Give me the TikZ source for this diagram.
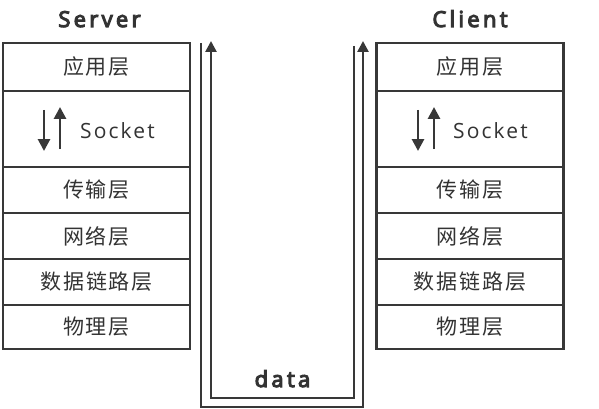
\documentclass[tikz,border=0pt]{standalone}
\usepackage{fontspec}
\usetikzlibrary{arrows.meta}
\newfontfamily\cjk[LetterSpace=9]{Noto Sans CJK SC}
\newfontfamily\lat[LetterSpace=10]{Open Sans}
\newfontfamily\latb[LetterSpace=15,FakeBold=5]{Open Sans}
\definecolor{ln}{HTML}{383838}
\definecolor{tx}{HTML}{333333}
\tikzset{
  layer/.style={draw=ln, line width=2.6pt, minimum width=#1, inner sep=0pt, text=tx, font=\cjk\fontsize{21}{21}\selectfont},
  title/.style={text=tx, font=\latb\fontsize{22}{22}\selectfont, inner sep=0pt, anchor=base},
  flow/.style={draw=ln, line width=2.6pt, -{Triangle[width=11pt,length=11pt]}},
  sarrow/.style={draw=ln, line width=2.8pt, -{Triangle[width=12pt,length=12pt]}},
  socklbl/.style={text=tx, font=\lat\fontsize{21}{21}\selectfont, inner sep=0pt, anchor=base west}
}
\begin{document}
\begin{tikzpicture}[x=1pt,y=-1pt]
\useasboundingbox (0,0) rectangle (599,409);
% titles
\node[title] (tS) at (99.5,27) {Server};
\node[title] (tC) at (470,27) {Client};
% stacks
\foreach \cx/\p in {96.5/s,470/c}{
  \node[layer=187pt, minimum height=48pt] (\p1) at (\cx,67) {应用层};
  \node[layer=187pt, minimum height=76pt] (\p2) at (\cx,129) {};
  \node[layer=187pt, minimum height=46pt] (\p3) at (\cx,190) {传输层};
  \node[layer=187pt, minimum height=46pt] (\p4) at (\cx,236) {网络层};
  \node[layer=187pt, minimum height=46pt] (\p5) at (\cx,282) {数据链路层};
  \node[layer=187pt, minimum height=44pt] (\p6) at (\cx,327) {物理层};
}
% socket rows
\coordinate (sd1) at (44,110); \coordinate (sd2) at (44,151);
\coordinate (su1) at (60,149); \coordinate (su2) at (60,107);
\draw[sarrow] (sd1) -- (sd2);
\draw[sarrow] (su1) -- (su2);
\node[socklbl] (sk) at (80,139) {Socket};
\coordinate (cd1) at (418,110); \coordinate (cd2) at (418,151);
\coordinate (cu1) at (434,149); \coordinate (cu2) at (434,107);
\draw[sarrow] (cd1) -- (cd2);
\draw[sarrow] (cu1) -- (cu2);
\node[socklbl] (ck) at (453,139) {Socket};
% data paths
\coordinate (o1) at (201,43); \coordinate (o2) at (201,407);
\coordinate (o3) at (363,407); \coordinate (o4) at (363,41);
\draw[flow] (o1) -- (o2) -- (o3) -- (o4);
\coordinate (i1) at (354,46); \coordinate (i2) at (354,398);
\coordinate (i3) at (211,398); \coordinate (i4) at (211,41);
\draw[flow] (i1) -- (i2) -- (i3) -- (i4);
\node[title] (dt) at (282.5,387) {data};
\end{tikzpicture}
\end{document}
